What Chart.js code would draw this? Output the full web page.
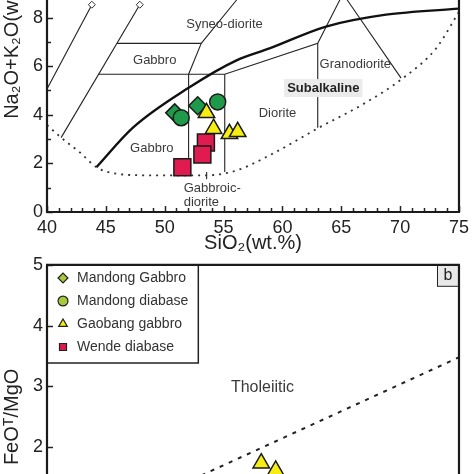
<!DOCTYPE html>
<html>
<head>
<meta charset="utf-8">
<script src="https://cdn.jsdelivr.net/npm/chart.js@4.4.0/dist/chart.umd.min.js"></script>
<style>
html, body { margin: 0; padding: 0; background: #fff; overflow: hidden; }
body { width: 474px; height: 474px; position: relative; }
#topBox { position: absolute; left: 0; top: -143px; }
#botBox { position: absolute; left: 0; top: 250px; }
</style>
</head>
<body>
<div id="topBox"><canvas id="tasChart" width="474" height="400"></canvas></div>
<div id="botBox"><canvas id="feoChart" width="474" height="359"></canvas></div>
<script>
// samples on the TAS diagram: [SiO2, Na2O+K2O]
const mandongGabbro = [[50.85, 4.08], [52.8, 4.37]];
const mandongDiabase = [[51.4, 3.88], [54.5, 4.53]];
const gaobangGabbro = [[53.55, 4.08], [54.15, 3.43], [55.5, 3.22], [56.2, 3.3]];
const wendeDiabase = [[53.5, 2.86], [53.2, 2.37], [51.5, 1.84]];

// samples on the FeOT/MgO panel (only the ones that show)
const gaobangFeo = [[55.4, 1.74], [56.1, 1.62]];

const sampleNames = ['Mandong Gabbro', 'Mandong diabase', 'Gaobang gabbro', 'Wende diabase'];

// TAS field boundaries [SiO2, Na2O+K2O]
const alkalineLine = [[44.2, 1.84], [47.3, 3.47], [52.0, 5.10], [56.1, 6.24], [58.9, 6.73], [63.7, 7.63], [68.8, 8.12], [75, 8.37]];
const lowerLimit = [[40, 3.58], [41.2, 3.06], [42.8, 2.45], [44.2, 1.84], [45.3, 1.63], [48.7, 1.51], [53.6, 1.51], [56.1, 1.71], [58.9, 2.33], [63.1, 3.47], [66.9, 4.45], [70.25, 5.51], [73.05, 6.73], [75, 8.24]];
const fieldLines = [
  [[40, 5.06], [43.81, 8.53]],
  [[41.2, 3.06], [47.88, 8.53]],
  [[45.94, 6.94], [53.1, 6.94], [56.4, 8.9]],
  [[53.1, 6.94], [52.03, 5.67]],
  [[44.38, 5.67], [55.1, 5.67], [63.0, 6.94], [65.14, 8.98], [70.08, 5.51]],
  [[52.03, 5.67], [52.03, 1.51]],
  [[55.1, 5.67], [55.1, 1.65]],
  [[63.0, 6.94], [63.0, 3.47]],
  [[53.56, 1.35], [53.56, 1.65]]
];
const capMarks = [[43.81, 8.53], [47.88, 8.53]];

// tholeiitic / calc-alkaline divide [SiO2, FeOT/MgO]
const tholLine = [[52.5, 1.54], [65, 3.48]];

const tasXTicks = [40, 45, 50, 55, 60, 65, 70, 75];
const tasYTicks = [0, 2, 4, 6, 8, 10, 12, 14];

const tasLabels = [
  { text: 'Syneo-diorite', x: 55.08, y: 7.71 },
  { text: 'Gabbro', x: 49.15, y: 6.24 },
  { text: 'Gabbro', x: 48.9, y: 2.61 },
  { text: 'Gabbroic-', x: 51.61, y: 0.98, align: 'left' },
  { text: 'diorite', x: 51.61, y: 0.41, align: 'left' },
  { text: 'Granodiorite', x: 66.19, y: 6.08 },
  { text: 'Subalkaline', x: 63.47, y: 5.10, bold: true, box: true },
  { text: 'Diorite', x: 59.58, y: 4.04 }
];
const feoLabels = [{ text: 'Tholeiitic', x: 55.46, y: 2.98, size: 16 }];

const FONT = 'Liberation Sans, Arial, Helvetica, sans-serif';
const pts = arr => arr.map(p => ({ x: p[0], y: p[1] }));

const styles = [
  { pointStyle: 'rectRot', radius: 9, fill: '#1f9a4b', legend: '#a6c93b' },
  { pointStyle: 'circle', radius: 8, fill: '#1f9a4b', legend: '#a6c93b' },
  { pointStyle: 'triangle', radius: 9.5, fill: '#f6ee12', legend: '#f6ee12' },
  { pointStyle: 'rect', radius: 12, fill: '#e01b4f', legend: '#d81c4c' }
];

function sampleSet(i, data, order) {
  const s = styles[i];
  return {
    label: sampleNames[i], data: pts(data), pointStyle: s.pointStyle,
    pointRadius: s.radius, pointHoverRadius: s.radius,
    backgroundColor: s.fill, borderColor: '#1a1a1a', borderWidth: 1.5, order: order
  };
}
function lineSet(data, opts) {
  return Object.assign({
    label: '', data: pts(data), showLine: true, pointRadius: 0,
    borderColor: '#222', borderWidth: 1.1, fill: false, order: 10
  }, opts || {});
}

const framePlugin = {
  id: 'frame',
  afterDatasetsDraw(chart, args, o) {
    const { ctx, scales: { x, y } } = chart;
    ctx.save();
    (o.labels || []).forEach(l => {
      const px = x.getPixelForValue(l.x), py = y.getPixelForValue(l.y);
      ctx.font = (l.bold ? 'bold ' : '') + (l.size || 13) + 'px ' + FONT;
      ctx.textAlign = l.align || 'center';
      ctx.textBaseline = 'middle';
      if (l.box) {
        const w = ctx.measureText(l.text).width;
        ctx.fillStyle = '#ebebeb';
        ctx.fillRect(px - w / 2 - 3, py - 9, w + 6, 18);
      }
      ctx.fillStyle = l.bold ? '#222' : '#3a3a3a';
      ctx.fillText(l.text, px, py);
    });
    ctx.restore();
  },
  afterDraw(chart, args, o) {
    const { ctx, chartArea: a, scales: { x, y } } = chart;
    ctx.save();
    ctx.strokeStyle = '#222';
    ctx.lineWidth = 1.5;
    if (o.xTicks) {
      x.ticks.forEach(t => {
        const px = Math.round(x.getPixelForValue(t.value)) + 0.5;
        const len = t.label !== '' ? 6 : 4;
        ctx.beginPath(); ctx.moveTo(px, a.bottom); ctx.lineTo(px, a.bottom - len); ctx.stroke();
      });
    }
    if (o.yTicks) {
      y.ticks.forEach(t => {
        const py = Math.round(y.getPixelForValue(t.value)) + 0.5;
        const len = t.label !== '' ? 6 : 4;
        ctx.beginPath(); ctx.moveTo(a.left, py); ctx.lineTo(a.left + len, py); ctx.stroke();
      });
    }
    if (o.corner) {
      ctx.fillStyle = '#e8e8e8';
      ctx.fillRect(a.right - 22, a.top, 22, 21);
      ctx.lineWidth = 1;
      ctx.strokeRect(a.right - 22 + 0.5, a.top + 0.5, 22, 21);
      ctx.fillStyle = '#222';
      ctx.font = '16px ' + FONT;
      ctx.textAlign = 'center'; ctx.textBaseline = 'middle';
      ctx.fillText(o.corner, a.right - 11, a.top + 11);
    }
    if (o.legendBox && chart.legend && chart.legend.legendHitBoxes.length) {
      const hb = chart.legend.legendHitBoxes;
      const r = Math.max(...hb.map(h => h.left + h.width)) + 10;
      const last = hb[hb.length - 1];
      const b = last.top + last.height + 9;
      ctx.lineWidth = 1.5;
      ctx.strokeRect(a.left, a.top, r - a.left, b - a.top);
    }
    ctx.lineWidth = 2.2;
    ctx.strokeStyle = '#1a1a1a';
    ctx.beginPath();
    const sides = o.sides || [];
    if (sides.includes('left')) { ctx.moveTo(a.left, a.top); ctx.lineTo(a.left, a.bottom); }
    if (sides.includes('bottom')) { ctx.moveTo(a.left - 1, a.bottom); ctx.lineTo(a.right + 1, a.bottom); }
    if (sides.includes('right')) { ctx.moveTo(a.right, a.top); ctx.lineTo(a.right, a.bottom); }
    if (sides.includes('top')) { ctx.moveTo(a.left - 1, a.top); ctx.lineTo(a.right + 1, a.top); }
    ctx.stroke();
    ctx.restore();
  }
};

function axisTitle(text, pad) {
  return { display: true, text: text, color: '#222', font: { size: 20, family: FONT }, padding: pad };
}

// top panel: TAS
const tasSets = [
  sampleSet(1, mandongDiabase, 2),
  sampleSet(2, gaobangGabbro, 1),
  sampleSet(0, mandongGabbro, 3),
  sampleSet(3, wendeDiabase, 0),
  lineSet(alkalineLine, { borderWidth: 2.4, borderColor: '#111', cubicInterpolationMode: 'monotone' }),
  lineSet(lowerLimit, { borderWidth: 1.8, borderDash: [2, 5], borderColor: '#333', cubicInterpolationMode: 'monotone' })
];
fieldLines.forEach(l => tasSets.push(lineSet(l)));
tasSets.push({
  label: '', data: pts(capMarks), pointStyle: 'rectRot', pointRadius: 3.5,
  backgroundColor: '#fff', borderColor: '#333', borderWidth: 1, order: 9
});

new Chart(document.getElementById('tasChart'), {
  type: 'scatter',
  data: { datasets: tasSets },
  options: {
    responsive: false,
    animation: false,
    events: [],
    layout: { padding: { top: 12, right: 13, left: 0, bottom: 0 } },
    plugins: {
      legend: { display: false },
      tooltip: { enabled: false },
      frame: { sides: ['left', 'bottom', 'right'], xTicks: true, yTicks: true, labels: tasLabels }
    },
    scales: {
      x: {
        type: 'linear', min: 40, max: 75,
        afterFit: s => { s.height = 45; },
        grid: { display: false, drawTicks: false },
        border: { display: false },
        ticks: {
          stepSize: 1, autoSkip: false, maxRotation: 0, padding: 5, color: '#222',
          font: { size: 18, family: FONT },
          callback: v => tasXTicks.includes(v) ? String(v) : ''
        },
        title: axisTitle('SiO₂(wt.%)', { top: 0, bottom: 2 })
      },
      y: {
        type: 'linear', min: 0, max: 14,
        afterFit: s => { s.width = 47; },
        grid: { display: false, drawTicks: false },
        border: { display: false },
        ticks: {
          stepSize: 1, autoSkip: false, padding: 4, color: '#222',
          font: { size: 18, family: FONT },
          callback: v => tasYTicks.includes(v) ? String(v) : ''
        },
        title: axisTitle('Na₂O+K₂O(wt.%)', { top: 0, bottom: 0 })
      }
    }
  },
  plugins: [framePlugin]
});

// bottom panel: FeOT/MgO vs SiO2
const feoSets = [
  sampleSet(0, [], 3),
  sampleSet(1, [], 2),
  sampleSet(2, gaobangFeo, 1),
  sampleSet(3, [], 0),
  lineSet(tholLine, { borderWidth: 2, borderDash: [4, 6], borderColor: '#222' })
];

new Chart(document.getElementById('feoChart'), {
  type: 'scatter',
  data: { datasets: feoSets },
  options: {
    responsive: false,
    animation: false,
    events: [],
    layout: { padding: { top: 14, right: 13, left: 0, bottom: 0 } },
    plugins: {
      tooltip: { enabled: false },
      legend: {
        display: true, position: 'chartArea', align: 'start',
        // the chartArea legend starts at the canvas top, the empty title pushes it down into the frame
        title: { display: true, text: '', font: { size: 10, family: FONT }, padding: 0 },
        labels: {
          usePointStyle: true, boxWidth: 14, boxHeight: 7, padding: 9,
          color: '#333', font: { size: 14, family: FONT },
          generateLabels: () => sampleNames.map((n, i) => ({
            text: n, fillStyle: styles[i].legend, strokeStyle: '#222', lineWidth: 1.2,
            pointStyle: styles[i].pointStyle, hidden: false, datasetIndex: i, fontColor: '#333'
          }))
        }
      },
      frame: { sides: ['left', 'top', 'right', 'bottom'], yTicks: true, labels: feoLabels, corner: 'b', legendBox: true }
    },
    scales: {
      x: {
        type: 'linear', min: 45, max: 65,
        afterFit: s => { s.height = 40; },
        grid: { display: false, drawTicks: false },
        border: { display: false },
        ticks: { stepSize: 5, padding: 5, color: '#222', font: { size: 18, family: FONT } },
        title: axisTitle('SiO₂(wt.%)', { top: 0, bottom: 2 })
      },
      y: {
        type: 'linear', min: 0, max: 5,
        afterFit: s => { s.width = 47; },
        grid: { display: false, drawTicks: false },
        border: { display: false },
        ticks: { stepSize: 1, padding: 4, color: '#222', font: { size: 18, family: FONT } },
        title: axisTitle('FeOᵀ/MgO', { top: 0, bottom: 0 })
      }
    }
  },
  plugins: [framePlugin]
});
</script>
</body>
</html>
